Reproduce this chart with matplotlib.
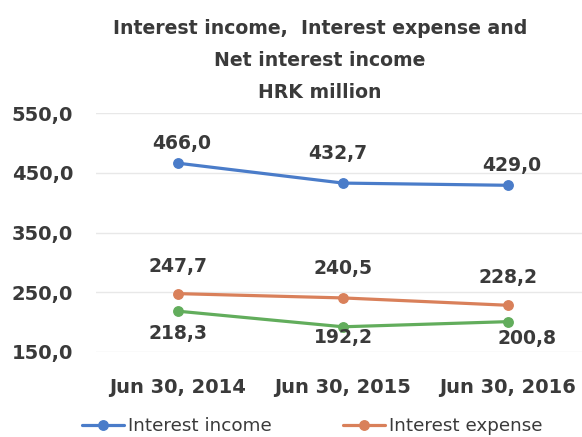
import matplotlib.pyplot as plt

# period-end dates and the three series, HRK million
dates = ['Jun 30, 2014', 'Jun 30, 2015', 'Jun 30, 2016']
interest_income = [466.0, 432.7, 429.0]
interest_expense = [247.7, 240.5, 228.2]
net_interest_income = [218.3, 192.2, 200.8]
yticks = [150, 250, 350, 450, 550]
title_lines = ['Interest income,  Interest expense and', 'Net interest income', 'HRK million']

text_col = '#3a3a3a'
plt.rcParams['font.family'] = ['DejaVu Sans']

fig = plt.figure(figsize=(5.82, 4.37), dpi=100)
# plot area runs past the right edge, like the cropped original
ax = fig.add_axes([95.5 / 582, 1 - 352 / 437, 495 / 582, 239 / 437])

def fmt(v):
    return f'{v:.1f}'.replace('.', ',')

series = [
    (interest_income, '#4a7cc9', 'Interest income', [(3, 14), (-4, 21), (3, 14)]),
    (interest_expense, '#d9805a', 'Interest expense', [(0, 19.5), (0, 21), (0, 20)]),
    (net_interest_income, '#62ad5c', 'Net interest income', [(0, -16), (0, -8), (14, -12)]),
]

handles = {}
for vals, col, name, offs in series:
    ln, = ax.plot(range(len(dates)), vals, color=col, lw=2.3, marker='o', ms=6.8,
                  solid_capstyle='round')
    handles[name] = ln
    for i, v in enumerate(vals):
        ax.annotate(fmt(v), (i, v), xytext=offs[i], textcoords='offset points',
                    ha='center', va='center', fontsize=13.5, fontweight='bold',
                    color=text_col)

ax.set_xlim(-0.5, 2.5)
ax.set_ylim(150, 550)
ax.set_yticks(yticks)
ax.set_yticklabels([fmt(t) for t in yticks])
ax.set_xticks(range(len(dates)))
ax.set_xticklabels(dates)
ax.tick_params(length=0, labelsize=14, labelcolor=text_col)
ax.tick_params(axis='y', pad=16)
ax.tick_params(axis='x', pad=19)
for lab in ax.get_xticklabels() + ax.get_yticklabels():
    lab.set_fontweight('bold')
ax.grid(axis='y', color='#e8e8e8', lw=1)
ax.set_axisbelow(True)
for s in ax.spines.values():
    s.set_visible(False)

for k, line in enumerate(title_lines):
    fig.text(320 / 582, 1 - (28 + 32.5 * k) / 437, line, ha='center', va='center',
             fontsize=13.6, fontweight='bold', color=text_col)

# only the first legend row fits inside the figure
shown = ['Interest income', 'Interest expense']
fig.legend([handles[n] for n in shown], shown, ncol=2, loc='upper left',
           bbox_to_anchor=(82 / 582, 1 - 417 / 437), frameon=False,
           borderpad=0, borderaxespad=0, handlelength=2.3, handletextpad=0.2,
           columnspacing=3.9, fontsize=13.2, labelcolor=text_col)

fig.savefig('out.png', dpi=100)
